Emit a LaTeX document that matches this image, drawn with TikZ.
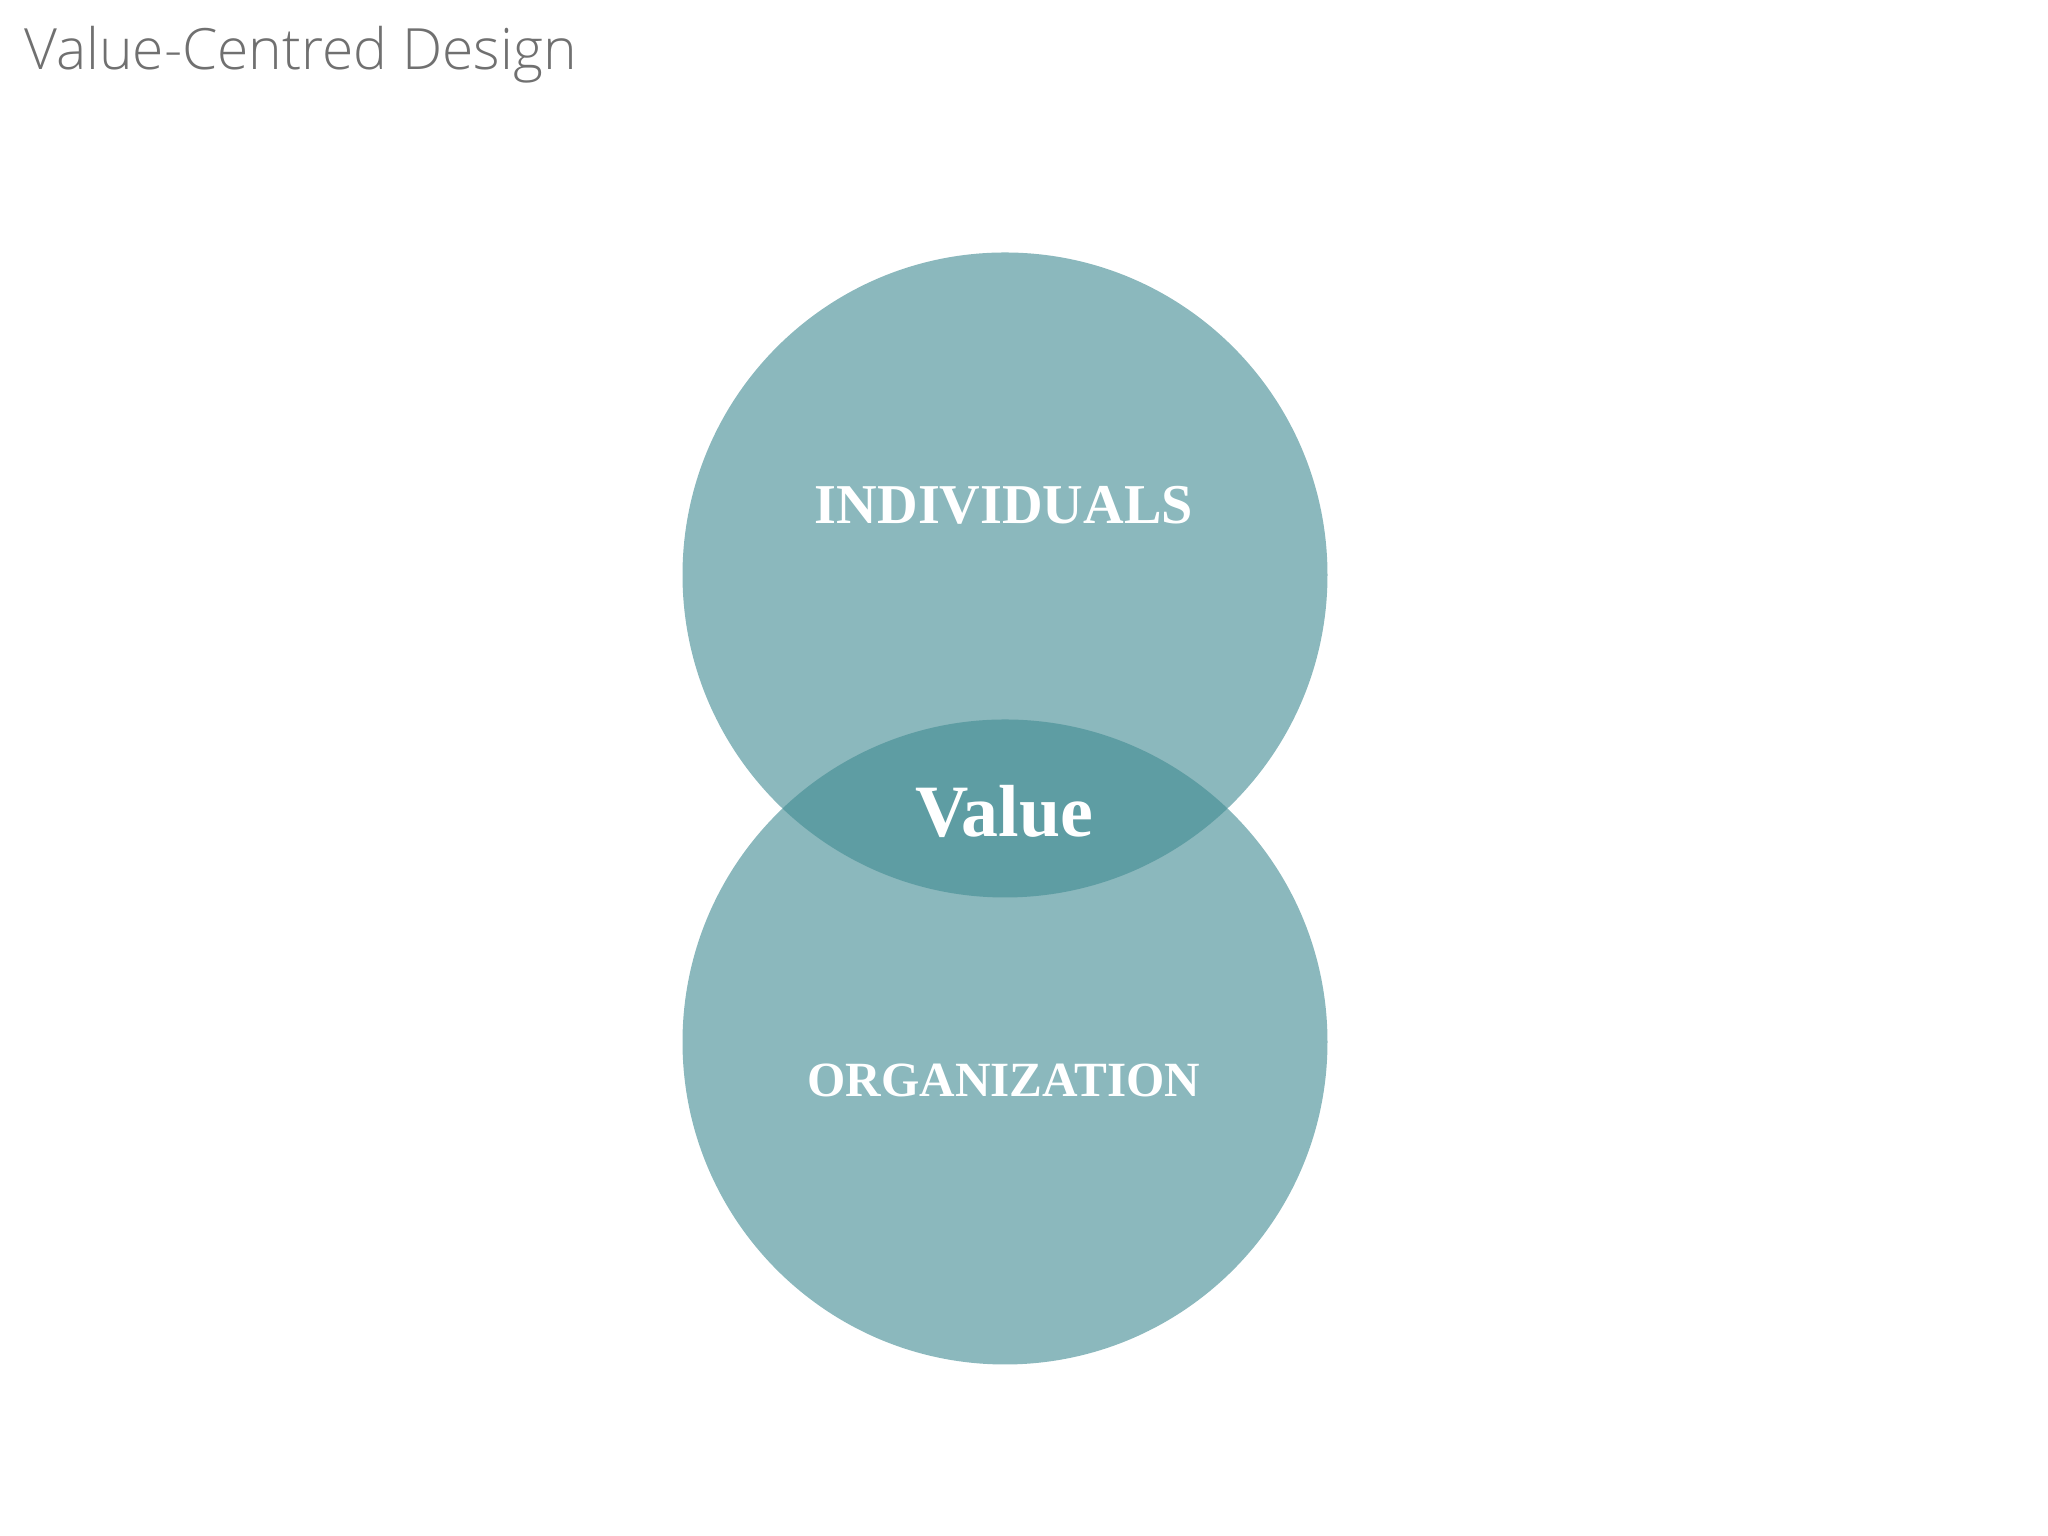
\documentclass[tikz,border=0pt]{standalone}
\usepackage{fontspec}
\setmainfont{Liberation Serif}
\newfontfamily\titlefont{Open Sans Light}
\usepackage{tikz}
\usetikzlibrary{shapes,positioning}
\definecolor{setfill}{HTML}{8BB8BD}
\definecolor{meetfill}{HTML}{5E9DA3}
\definecolor{titlegray}{HTML}{707070}
\tikzset{
  setcirc/.style={circle, fill=setfill, minimum size=6.45cm, inner sep=0pt},
  setlabel/.style={text=white, font=\bfseries\fontsize{#1}{#1}\selectfont}
}

\begin{document}
\begin{tikzpicture}
	\useasboundingbox (0,0) rectangle (20.48,15.36);
	\node[anchor=base west, text=titlegray, font=\titlefont\fontsize{16.2}{16.2}\selectfont] (title) at (0.12,14.66) {Value-Centred Design};
	\node[setcirc] (indiv) at (10.05,9.61) {};
	\node[setcirc] (org) at (10.05,4.94) {};
	\begin{scope}
	  \clip (indiv.center) circle (3.225);
	  \fill[meetfill] (org.center) circle (3.225);
	\end{scope}
	\node[setlabel=16] (ilabel) at (10.04,10.31) {INDIVIDUALS};
	\node[setlabel=14] (olabel) at (10.04,4.56) {ORGANIZATION};
	\node[setlabel=21] (vlabel) at (10.04,7.25) {Value};
\end{tikzpicture}
\end{document}
